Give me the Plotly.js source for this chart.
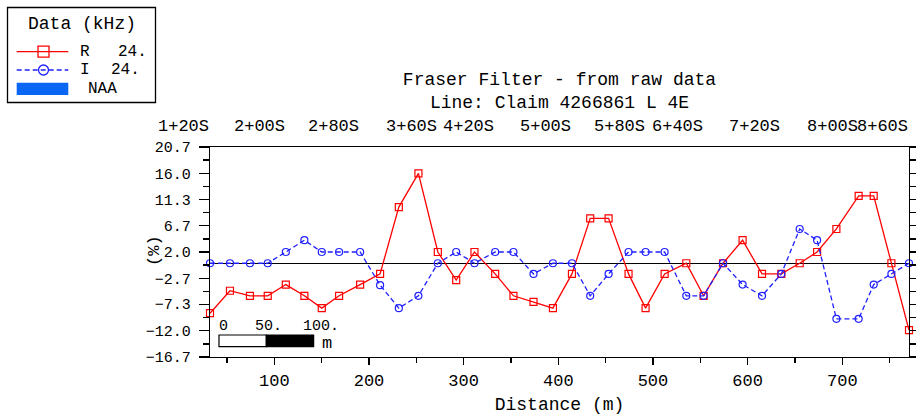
<!DOCTYPE html>
<html><head><meta charset="utf-8">
<script src="https://cdn.plot.ly/plotly-3.0.1.min.js"></script>
<style>html,body{margin:0;padding:0;background:#fff;}#chart{width:916px;height:417px;}</style>
</head><body><div id="chart"></div>
<script>
// ---- data ----
const distance = [32.0, 53.1, 74.2, 93.0, 112.1, 131.7, 150.1, 168.4, 190.6, 211.7, 231.5, 252.2, 272.7, 292.1, 311.4, 333.3, 352.6, 373.8, 394.3, 414.4, 433.7, 453.1, 474.2, 492.2, 512.3, 535.2, 553.5, 574.0, 594.7, 615.2, 635.6, 655.0, 673.4, 693.8, 717.3, 733.2, 751.9, 770.5];
const rValues = [-8.9, -4.9, -5.8, -5.8, -3.8, -5.8, -8.0, -5.8, -3.8, -1.9, 10.0, 16.0, 2.0, -3.0, 2.0, -1.9, -5.8, -6.9, -8.0, -1.9, 8.0, 8.0, -1.9, -8.0, -1.9, 0.0, -5.8, 0.0, 4.1, -1.9, -1.9, 0.0, 2.0, 6.1, 12.0, 12.0, 0.0, -11.9];
const iValues = [0.0, 0.0, 0.0, 0.0, 2.0, 4.1, 2.0, 2.0, 2.0, -3.9, -8.0, -5.8, 0.0, 2.0, 0.0, 2.0, 2.0, -1.9, 0.0, 0.0, -5.8, -1.9, 2.0, 2.0, 2.0, -5.8, -5.8, 0.0, -3.8, -5.8, -1.9, 6.1, 4.1, -9.9, -9.9, -3.8, -1.9, 0.0];
const stationLabels = ['1+20S','2+00S','2+80S','3+60S','4+20S','5+00S','5+80S','6+40S','7+20S','8+00S','8+60S'];
const stationIndex = [0, 4, 8, 12, 15, 19, 23, 26, 30, 34, 37];
const xTicks = [100, 200, 300, 400, 500, 600, 700];
const yTicks = [-16.7, -12.0, -7.3, -2.7, 2.0, 6.7, 11.3, 16.0, 20.7];
const scaleMarks = [0, 50, 100];
const scaleLabels = ['0', '50.', '100.'];
const legendTitle = 'Data (kHz)';
const seriesNames = ['R', 'I', 'NAA'];
const seriesFreq = ['24.', '24.'];

// ---- layout helpers ----
const W = 916, H = 417, ML = 210, MR = 7, MT = 147, MB = 60;
const PW = W - ML - MR, PH = H - MT - MB;
const px = v => (v - ML) / PW;
const py = v => (H - MB - v) / PH;
const FONT = 'Liberation Mono, Courier New, monospace';
const RED = '#ff0000', BLUE = '#1f1fff', NAA = '#0a66f5';
const xMin = distance[0], xMax = distance[distance.length - 1];
const yMin = yTicks[0], yMax = yTicks[yTicks.length - 1];

const traces = [
  {x: distance, y: rValues, type: 'scatter', mode: 'lines+markers', name: seriesNames[0],
   line: {color: RED, width: 1.3}, marker: {symbol: 'square-open', size: 7, color: RED, line: {width: 1.2}},
   cliponaxis: false},
  {x: distance, y: iValues, type: 'scatter', mode: 'lines+markers', name: seriesNames[1],
   line: {color: BLUE, width: 1.3, dash: '5px,3px'}, marker: {symbol: 'circle-open', size: 7, color: BLUE, line: {width: 1.2}},
   cliponaxis: false}
];

const shapes = [];
const annotations = [];

// legend box (drawn by hand)
shapes.push({type: 'rect', xref: 'paper', yref: 'paper', x0: px(7.5), x1: px(155.5), y0: py(7.5), y1: py(102.5), line: {color: '#000', width: 1.3}, fillcolor: '#fff'});
shapes.push({type: 'line', xref: 'paper', yref: 'paper', x0: px(16.7), x1: px(68.3), y0: py(51.7), y1: py(51.7), line: {color: RED, width: 1.3}});
shapes.push({type: 'rect', xref: 'paper', yref: 'paper', x0: px(38), x1: px(49), y0: py(46.2), y1: py(57.2), line: {color: RED, width: 1.3}, fillcolor: 'rgba(0,0,0,0)'});
shapes.push({type: 'line', xref: 'paper', yref: 'paper', x0: px(16.7), x1: px(68.3), y0: py(70), y1: py(70), line: {color: BLUE, width: 1.3, dash: '5px,3px'}});
shapes.push({type: 'circle', xref: 'paper', yref: 'paper', x0: px(38.5), x1: px(48.5), y0: py(65), y1: py(75), line: {color: BLUE, width: 1.3}, fillcolor: 'rgba(0,0,0,0)'});
shapes.push({type: 'rect', xref: 'paper', yref: 'paper', x0: px(16.7), x1: px(68.3), y0: py(82.7), y1: py(95), line: {width: 0}, fillcolor: NAA});

const ann = (t, x, y, xa, size, extra) => Object.assign({text: t, xref: 'paper', yref: 'paper', x: px(x), y: py(y), xanchor: xa, yanchor: 'middle', showarrow: false, borderpad: 0, font: {family: FONT, size: size, color: '#000'}}, extra || {});
annotations.push(ann(legendTitle, 82, 24, 'center', 18));
annotations.push(ann(seriesNames[0], 79, 52, 'left', 16));
annotations.push(ann(seriesFreq[0], 117, 52, 'left', 16));
annotations.push(ann(seriesNames[1], 79, 70, 'left', 16));
annotations.push(ann(seriesFreq[1], 110, 70, 'left', 16));
annotations.push(ann(seriesNames[2], 87, 89, 'left', 16));

// y axis title
annotations.push(ann('(%)', 154, 251, 'center', 17, {textangle: -90}));

// station labels along the top, right-aligned at their stations
stationLabels.forEach((s, k) => {
  annotations.push({text: s, xref: 'x', yref: 'paper', x: distance[stationIndex[k]], y: py(127), xanchor: 'right', yanchor: 'middle', showarrow: false, borderpad: 0, font: {family: FONT, size: 17, color: '#000'}});
});

// scale bar (100 m)
const scaleStart = xMin + 9.5;
shapes.push({type: 'rect', xref: 'x', yref: 'paper', x0: scaleStart + scaleMarks[0], x1: scaleStart + scaleMarks[1], y0: py(346.7), y1: py(335), line: {color: '#000', width: 1.2}, fillcolor: '#fff'});
shapes.push({type: 'rect', xref: 'x', yref: 'paper', x0: scaleStart + scaleMarks[1], x1: scaleStart + scaleMarks[2], y0: py(346.7), y1: py(335), line: {color: '#000', width: 1.2}, fillcolor: '#000'});
scaleLabels.forEach((s, k) => {
  annotations.push({text: s, xref: 'x', yref: 'paper', x: scaleStart + scaleMarks[k], y: py(326), xanchor: 'left', yanchor: 'middle', xshift: k === 0 ? -1 : -12, showarrow: false, borderpad: 0, font: {family: FONT, size: 15, color: '#000'}});
});
annotations.push({text: 'm', xref: 'x', yref: 'paper', x: scaleStart + scaleMarks[2], y: py(343), xanchor: 'left', yanchor: 'middle', xshift: 7, showarrow: false, borderpad: 0, font: {family: FONT, size: 17, color: '#000'}});

const layout = {
  width: W, height: H,
  margin: {l: ML, r: MR, t: MT, b: MB, pad: 0},
  paper_bgcolor: '#fff', plot_bgcolor: '#fff',
  showlegend: false,
  font: {family: FONT, color: '#000'},
  title: {text: 'Fraser Filter - from raw data<br>Line: Claim 4266861 L 4E', x: px(559.5), xref: 'paper', xanchor: 'center', y: 1 - 85 / H, yref: 'container', yanchor: 'top', font: {family: FONT, size: 18, color: '#000'}},
  xaxis: {
    range: [xMin, xMax], showgrid: false, zeroline: false,
    showline: true, linecolor: '#000', linewidth: 1.3, mirror: true,
    ticks: 'outside', ticklen: 7, tickwidth: 1.3, tickcolor: '#000',
    tickvals: xTicks, ticklabelstandoff: 0,
    tickfont: {family: FONT, size: 17, color: '#000'},
    minor: {dtick: 50, tick0: 0, ticks: 'outside', ticklen: 5, tickwidth: 1.3, tickcolor: '#000'},
    title: {text: 'Distance (m)', standoff: 7, font: {family: FONT, size: 18, color: '#000'}}
  },
  yaxis: {
    range: [yMin, yMax], showgrid: false,
    zeroline: true, zerolinecolor: '#000', zerolinewidth: 1.3,
    showline: true, linecolor: '#000', linewidth: 1.3, mirror: 'ticks',
    ticks: 'outside', ticklen: 10, tickwidth: 1.3, tickcolor: '#000',
    tickvals: yTicks, tickformat: '.1f', ticklabelstandoff: 5,
    tickfont: {family: FONT, size: 15, color: '#000'},
    minor: {tick0: yMin, dtick: (yMax - yMin) / 16, ticks: 'outside', ticklen: 6, tickwidth: 1.3, tickcolor: '#000'}
  },
  shapes: shapes,
  annotations: annotations
};

Plotly.newPlot('chart', traces, layout, {staticPlot: true, displayModeBar: false});
</script></body></html>
